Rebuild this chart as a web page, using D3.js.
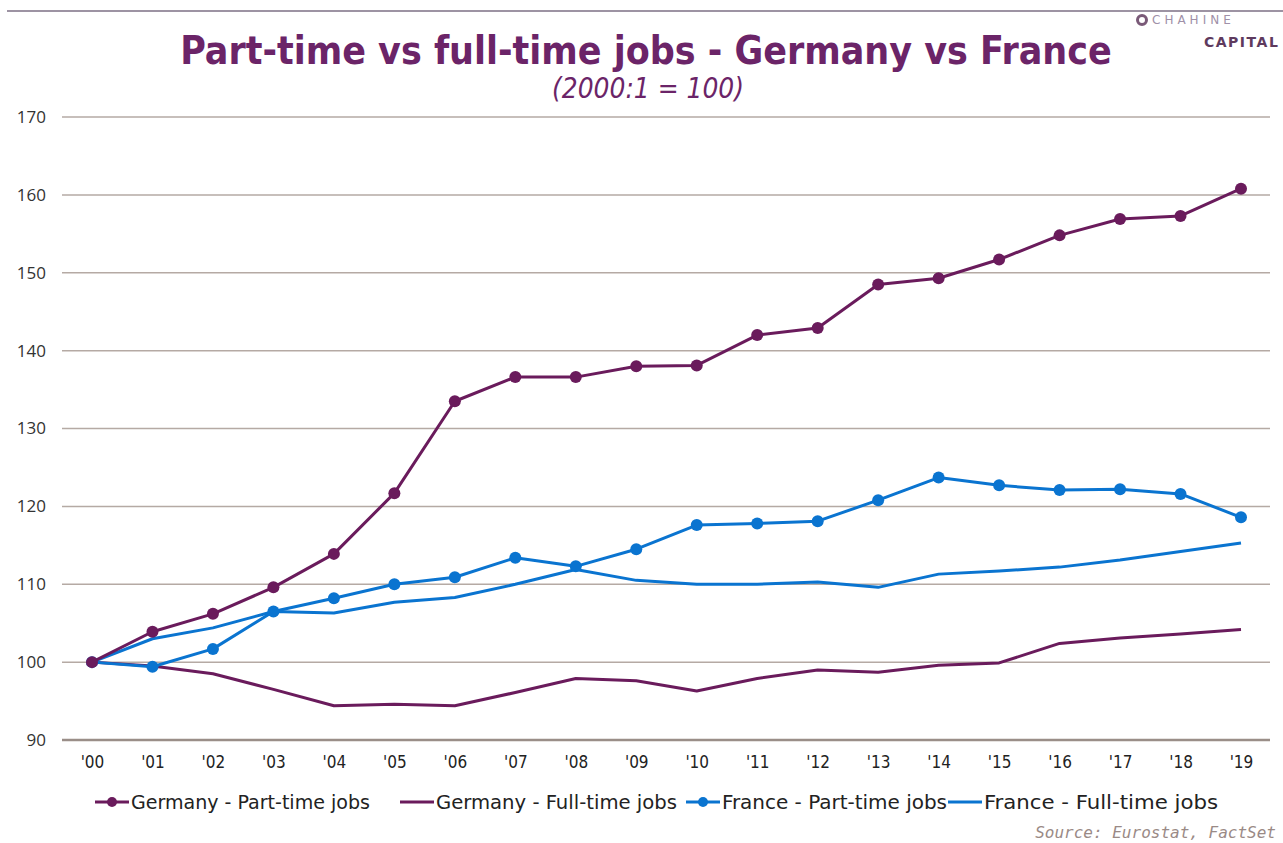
<!DOCTYPE html>
<html><head><meta charset="utf-8">
<script src="https://cdn.jsdelivr.net/npm/d3@7"></script>
<style>body{margin:0;background:#fff}svg{display:block}</style>
</head><body>
<svg id="c" width="1283" height="843"></svg>
<script>
const years = ["'00","'01","'02","'03","'04","'05","'06","'07","'08","'09","'10","'11","'12","'13","'14","'15","'16","'17","'18","'19"];
const dePart = [100,103.9,106.2,109.6,113.9,121.7,133.5,136.6,136.6,138.0,138.1,142.0,142.9,148.5,149.3,151.7,154.8,156.9,157.3,160.8];
const deFull = [100,99.5,98.5,96.5,94.4,94.6,94.4,96.1,97.9,97.6,96.3,97.9,99.0,98.7,99.6,99.9,102.4,103.1,103.6,104.2];
const frPart = [100,99.4,101.7,106.5,108.2,110.0,110.9,113.4,112.3,114.5,117.6,117.8,118.1,120.8,123.7,122.7,122.1,122.2,121.6,118.6];
const frFull = [100,103.0,104.4,106.5,106.3,107.7,108.3,110.0,111.9,110.5,110.0,110.0,110.3,109.6,111.3,111.7,112.2,113.1,114.2,115.3];
const yTicks = [90,100,110,120,130,140,150,160,170];
const seriesNames = ["Germany - Part-time jobs","Germany - Full-time jobs","France - Part-time jobs","France - Full-time jobs"];

const purple = "#6a1b5c", blue = "#0a74d0";
const series = [
  {name: seriesNames[0], values: dePart, color: purple, markers: true},
  {name: seriesNames[1], values: deFull, color: purple, markers: false},
  {name: seriesNames[2], values: frPart, color: blue, markers: true},
  {name: seriesNames[3], values: frFull, color: blue, markers: false}
];

const svg = d3.select("#c");

// fit a text's font-size so its natural width equals target
function fitWidth(sel, target, base) {
  const w = sel.node().getComputedTextLength();
  sel.attr("font-size", base * target / w);
}

// top rule
svg.append("line").attr("x1",7).attr("x2",1283).attr("y1",11).attr("y2",11)
  .attr("stroke","#7d6f85").attr("stroke-width",1.5);

// title
const title = svg.append("text").attr("x",646).attr("y",64).attr("text-anchor","middle")
  .attr("font-family","'DejaVu Sans Condensed', sans-serif").attr("font-weight","bold").attr("font-size",40)
  .attr("fill","#6b2468").text("Part-time vs full-time jobs - Germany vs France");
fitWidth(title, 932, 40);
const sub = svg.append("text").attr("x",648).attr("y",98).attr("text-anchor","middle")
  .attr("font-family","'DejaVu Sans Condensed', sans-serif").attr("font-style","italic").attr("font-size",24)
  .attr("fill","#6b2468").text("(2000:1 = 100)");
fitWidth(sub, 192, 24);

// logo
const logo = svg.append("g");
logo.append("circle").attr("cx",1142).attr("cy",20).attr("r",4.5).attr("fill","none").attr("stroke","#7a5a78").attr("stroke-width",3);
logo.append("text").attr("x",1152).attr("y",24).attr("font-family","'DejaVu Sans', sans-serif").attr("font-size",12)
  .attr("fill","#a090a8").attr("letter-spacing",4).text("CHAHINE");
logo.append("text").attr("x",1204).attr("y",47).attr("font-family","'DejaVu Sans', sans-serif").attr("font-weight","bold").attr("font-size",14)
  .attr("fill","#5e3a5e").attr("letter-spacing",1.5).text("CAPITAL");

const x = d3.scalePoint().domain(years).range([92,1241]);
const y = d3.scaleLinear().domain([90,170]).range([740,117]);

// grid
svg.append("g").selectAll("line").data(yTicks).join("line")
  .attr("x1",62).attr("x2",1270).attr("y1",d=>y(d)).attr("y2",d=>y(d))
  .attr("stroke",d=>d===90?"#9a8e88":"#b5aaa4").attr("stroke-width",d=>d===90?2.5:1.5);

// y axis labels
const yAxis = d3.axisLeft(y).tickValues(yTicks).tickSize(0).tickPadding(0);
const gy = svg.append("g").attr("transform","translate(46,0)").call(yAxis);
gy.select(".domain").remove();
gy.selectAll("text").attr("font-family","'Open Sans', sans-serif").attr("font-size",17).attr("fill","#333");

// x axis labels
const xAxis = d3.axisBottom(x).tickSize(0).tickPadding(0);
const gx = svg.append("g").attr("transform","translate(0,756)").call(xAxis);
gx.select(".domain").remove();
gx.selectAll("text").attr("font-family","'DejaVu Sans Condensed', sans-serif").attr("font-size",17).attr("fill","#222");

// lines
const line = d3.line().x((d,i)=>x(years[i])).y(d=>y(d));
const order = [series[1], series[3], series[2], series[0]];
order.forEach(s=>{
  svg.append("path").datum(s.values).attr("d",line).attr("fill","none")
    .attr("stroke",s.color).attr("stroke-width",3).attr("stroke-linejoin","round");
  if (s.markers) {
    svg.append("g").selectAll("circle").data(s.values).join("circle")
      .attr("cx",(d,i)=>x(years[i])).attr("cy",d=>y(d)).attr("r",6).attr("fill",s.color);
  }
});

// legend
const legendX = [95,400,686,948];
const legendW = [239,241,225,234];
const lg = svg.append("g");
series.forEach((s,i)=>{
  const g = lg.append("g").attr("transform",`translate(${legendX[i]},802)`);
  g.append("line").attr("x1",0).attr("x2",34).attr("stroke",s.color).attr("stroke-width",3);
  if (s.markers) g.append("circle").attr("cx",17).attr("r",5).attr("fill",s.color);
  g.append("text").attr("x",36).attr("y",7).attr("font-family","'DejaVu Sans Condensed', sans-serif").attr("font-size",20)
    .attr("fill","#222").attr("textLength",legendW[i]).attr("lengthAdjust","spacingAndGlyphs").text(s.name);
});

// source
svg.append("text").attr("x",1276).attr("y",838).attr("text-anchor","end")
  .attr("font-family","'DejaVu Sans Mono', monospace").attr("font-style","italic").attr("font-size",16)
  .attr("fill","#9a8a86").text("Source: Eurostat, FactSet");
</script>
</body></html>
